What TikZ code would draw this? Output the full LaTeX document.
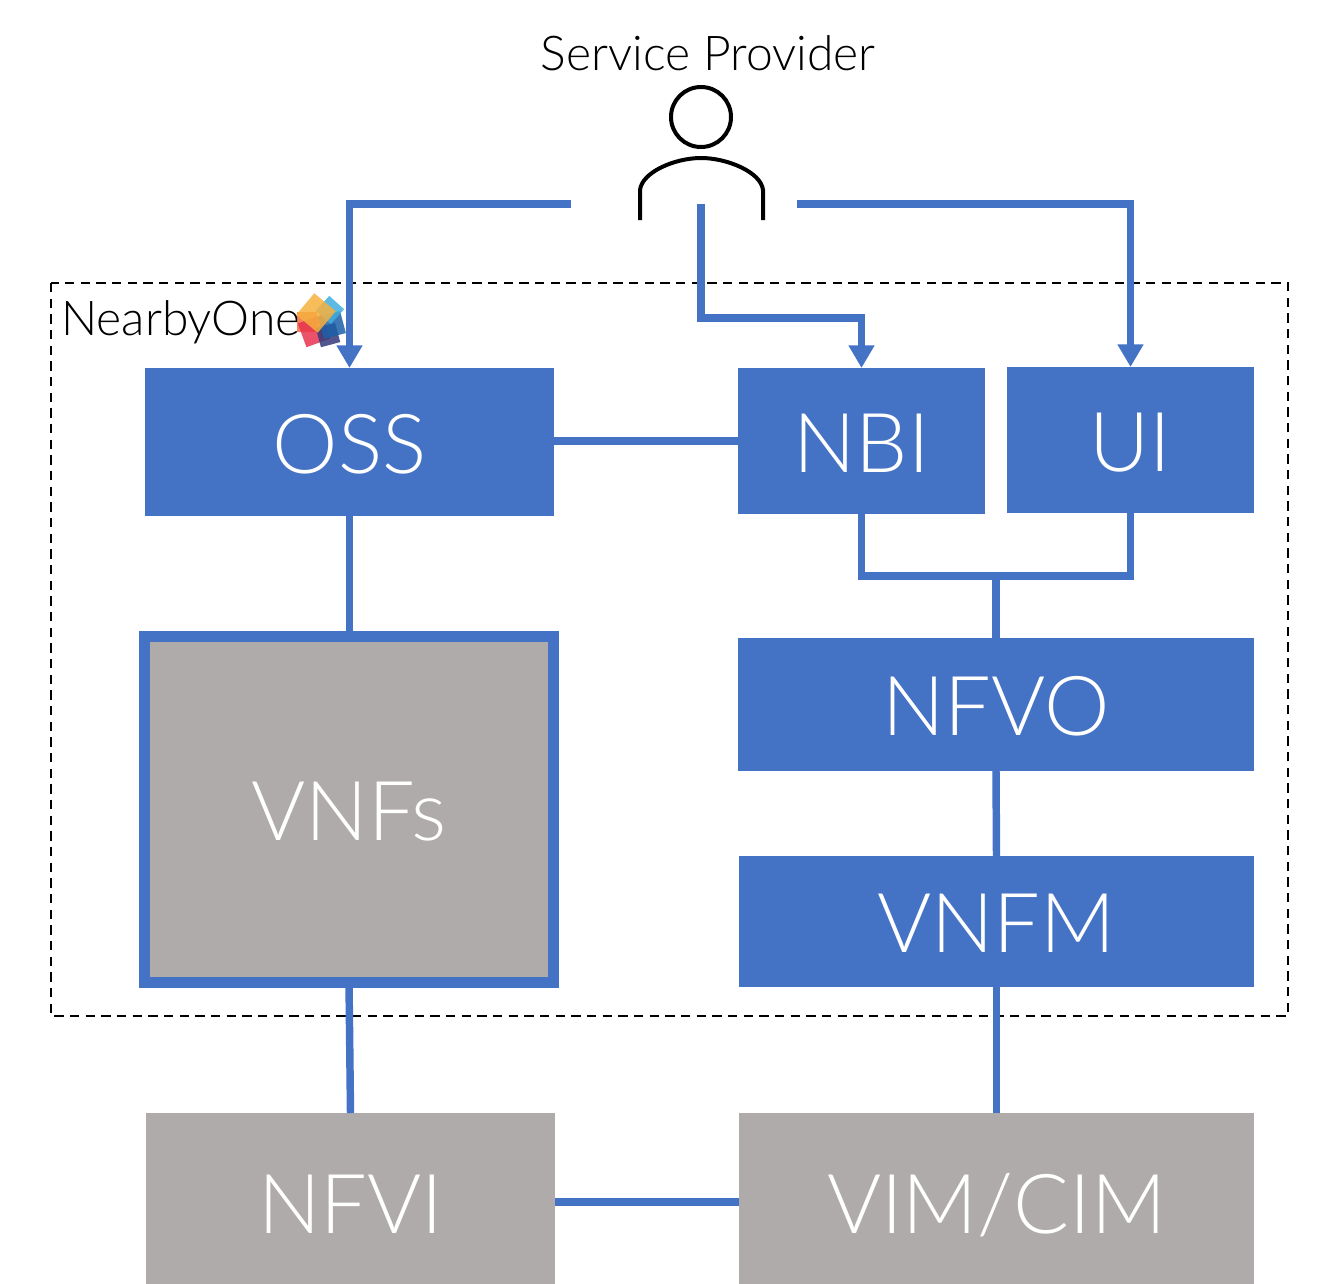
\documentclass[tikz,border=0pt]{standalone}
\usepackage{fontspec}
\setmainfont{Lato Light}
\usetikzlibrary{arrows.meta}
\definecolor{boxblue}{HTML}{4472C4}
\definecolor{boxgray}{HTML}{AFABAB}
\definecolor{logoyellow}{HTML}{F5B13D}
\definecolor{logosky}{HTML}{3FAEE0}
\definecolor{logoblue}{HTML}{1C5FA8}
\definecolor{logonavy}{HTML}{33397A}
\definecolor{logored}{HTML}{E8324F}
\definecolor{logoorange}{HTML}{EF6F3C}
\tikzset{
	sized/.style n args={2}{minimum width=#1*0.75pt, minimum height=#2*0.75pt},
	block/.style={inner sep=0pt, outer sep=0pt, text=white, text height=47pt, text depth=0pt, font=\fontsize{62}{62}\selectfont},
	blueblock/.style={block, fill=boxblue},
	grayblock/.style={block, fill=boxgray},
	link/.style={draw=boxblue, line width=5.6pt},
	linkarrow/.style={link, -{Triangle[length=17pt,width=18.5pt]}},
	caption/.style={inner sep=0pt, font=\fontsize{36}{36}\selectfont},
	personline/.style={draw=black, line width=3pt},
	petal/.style={inner sep=0pt, opacity=0.85}
}
\begin{document}
\begin{tikzpicture}[x=0.75pt,y=-0.75pt]
	\useasboundingbox (0,0) rectangle (1324,1284);
	
	\draw[black, line width=1.7pt, dash pattern=on 7pt off 4.75pt] (51,283) rectangle (1288,1016);
	
	\node[caption] (provider) at (708,53) {Service Provider};
	\node[caption, anchor=west] (nearby) at (61,322) {NearbyOne};
	
	%logo
	\node[petal, fill=logoorange, minimum size=14.5pt] at (307,322) {};
	\node[petal, fill=logored, minimum size=19pt, rotate=20] at (314,331) {};
	\node[petal, fill=logonavy, minimum size=15pt, rotate=15] at (328,335) {};
	\node[petal, fill=logoblue, minimum size=17pt, rotate=15] at (332,325) {};
	\node[petal, fill=logosky, minimum size=15pt, rotate=-42] at (330,310) {};
	\node[petal, fill=logoyellow, minimum size=21pt, rotate=-40] at (316,313) {};
	
	%person
	\node[personline, draw, circle, inner sep=0pt, minimum size=45pt] (head) at (701,117) {};
	\coordinate (shoulderl) at (640,220);
	\coordinate (shoulderr) at (763,220);
	\draw[personline] (shoulderl) -- (640,190) .. controls (642,172) and (675,158) .. (701,158)
		.. controls (727,158) and (761,172) .. (763,190) -- (shoulderr);
	
	\node[blueblock, sized={409}{148}] (oss) at (349.5,442) {OSS};
	\node[blueblock, sized={247}{146}] (nbi) at (861.5,441) {NBI};
	\node[blueblock, sized={247}{146}] (ui) at (1130.5,440) {UI};
	\node[blueblock, sized={516}{133}] (nfvo) at (996,704.5) {NFVO};
	\node[blueblock, sized={515}{131}] (vnfm) at (996.5,921.5) {VNFM};
	\node[grayblock, draw=boxblue, line width=8.25pt, sized={409}{346}] (vnfs) at (349,809.5) {VNFs};
	\node[grayblock, sized={409}{178}] (nfvi) at (350.5,1202) {NFVI};
	\node[grayblock, sized={515}{178}] (vim) at (996.5,1202) {VIM/CIM};
	
	\coordinate (fromleft) at (571,204);
	\coordinate (frommid) at (701,204);
	\coordinate (fromright) at (797,204);
	\coordinate (merge) at (996,576);
	
	\draw[linkarrow] (fromleft) -| (oss.north);
	\draw[linkarrow] (frommid) |- (861.5,318) -- (nbi.north);
	\draw[linkarrow] (fromright) -| (ui.north);
	
	\draw[link] (oss.east |- nbi.west) -- (nbi.west);
	\draw[link] (oss.south) -- (oss.south |- vnfs.north);
	\draw[link] (nbi.south) |- (merge) -| (ui.south);
	\draw[link] (merge) -- (nfvo.north);
	\draw[link] (nfvo.south) -- (vnfm.north);
	\draw[link] (vnfm.south) -- (vim.north);
	\draw[link] (vnfs.south) -- (nfvi.north);
	\draw[link] (nfvi.east) -- (vim.west);
\end{tikzpicture}
\end{document}
